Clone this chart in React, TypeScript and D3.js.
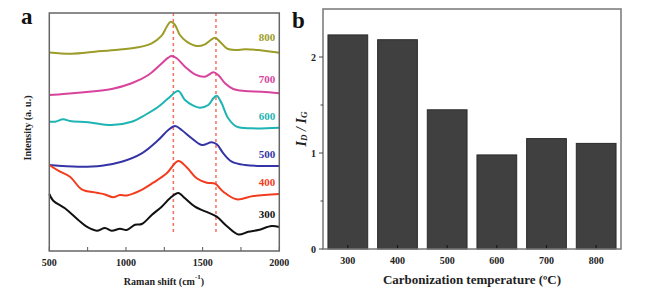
import React from "react";
import * as d3 from "d3";

// ---- Panel a: Raman spectra (wavenumber cm-1, intensity a.u.) ----
const raman800: [number, number][] = [
  [500, 198.5], [646, 197.3], [798, 199.3], [948, 201.3], [1078, 203.7], [1168, 207.7],
  [1233, 215.3], [1266, 224.3], [1292, 229.3], [1320, 226], [1352, 216], [1396, 209.3],
  [1461, 205], [1515, 206.7], [1553, 211], [1581, 213.3], [1613, 209.3], [1657, 202.7],
  [1711, 201], [1776, 201.7], [1863, 201], [1950, 199.3], [2000, 198.3],
];
const raman700: [number, number][] = [
  [500, 156], [689, 158.3], [907, 162], [1037, 167.7], [1146, 176], [1222, 186],
  [1276, 193.3], [1298, 195], [1331, 192.7], [1385, 184.3], [1450, 176.7], [1515, 174.3],
  [1570, 178.7], [1602, 176], [1646, 167.7], [1700, 162], [1776, 160], [1885, 159.3], [2000, 157.7],
];
const raman600: [number, number][] = [
  [500, 129.3], [537, 129.3], [591, 131.7], [635, 130], [754, 128.7], [907, 126],
  [1037, 129.3], [1124, 136], [1211, 144.3], [1276, 152.7], [1341, 160], [1385, 151],
  [1439, 145.3], [1483, 143.3], [1537, 146], [1570, 152.7], [1592, 155.3], [1624, 147.7],
  [1667, 132.7], [1722, 124.3], [1820, 122.7], [2000, 123.3],
];
const raman500: [number, number][] = [
  [500, 86], [689, 84.3], [842, 85.3], [972, 89.3], [1103, 97.7], [1211, 111],
  [1276, 121], [1320, 125], [1363, 121], [1429, 112.7], [1494, 106], [1559, 108.7],
  [1592, 106.7], [1635, 97.7], [1690, 89.3], [1776, 86], [2000, 85],
];
const raman400: [number, number][] = [
  [500, 86], [559, 80.3], [635, 74.3], [711, 61.7], [809, 58.3], [863, 56.5], [917, 53.7],
  [960, 56], [1005, 55.5], [1092, 60.3], [1178, 68.3], [1266, 77.7], [1341, 90],
  [1396, 83.7], [1461, 72.7], [1527, 68.3], [1581, 67.3], [1635, 59.3], [1722, 51.7],
  [1830, 55], [2000, 57],
];
const raman300: [number, number][] = [
  [500, 57], [526, 50.3], [602, 42.7], [689, 31], [744, 24.3], [809, 20.3], [863, 23],
  [907, 20.3], [961, 22.3], [1005, 21], [1059, 26.3], [1103, 27], [1168, 36], [1233, 44.3],
  [1287, 52.7], [1341, 58], [1385, 52.7], [1450, 44.3], [1537, 38.3], [1592, 34.3],
  [1657, 25], [1733, 16.5], [1798, 19.3], [1863, 21], [1950, 25], [2000, 24],
];
const seriesNames = ["800", "700", "600", "500", "400", "300"];
const seriesColors = ["#9c9c28", "#d8449c", "#1fb4b4", "#3434a6", "#f23c1e", "#111111"];
const seriesData = [raman800, raman700, raman600, raman500, raman400, raman300];
const labelLevels = [214, 172, 135, 97, 69, 37];
const bandLines = [1309, 1587];
const ramanTicks = [500, 1000, 1500, 2000];
const ramanMinorTicks = [750, 1250, 1750];

// ---- Panel b: ID/IG ratio ----
const temperatures = ["300", "400", "500", "600", "700", "800"];
const ratios = [2.23, 2.18, 1.45, 0.98, 1.15, 1.1];
const ratioTicks = [0, 1, 2];
const ratioMinorTicks = [0.5, 1.5];

const serif = "'Liberation Serif', 'Times New Roman', serif";

export default function App() {
  // panel a scales
  const xa = d3.scaleLinear().domain([500, 2000]).range([49.3, 279.3]);
  const ya = d3.scaleLinear().domain([0, 238]).range([251, 13]);
  const line = d3
    .line<[number, number]>()
    .x((d) => xa(d[0]))
    .y((d) => ya(d[1]))
    .curve(d3.curveCatmullRom.alpha(0.5));

  // panel b scales
  const xb = d3.scaleBand<string>().domain(temperatures).range([323, 621]).paddingInner(0.2).paddingOuter(0.1);
  const yb = d3.scaleLinear().domain([0, 2.5]).range([249, 9]);

  return (
    <div style={{ position: "fixed", left: 0, top: 0 }}>
      <svg width={645} height={292} style={{ display: "block", background: "#fff" }}>
        {/* ---------- Panel a ---------- */}
        <text x={21} y={24} fontFamily={serif} fontWeight="bold" fontSize={23} fill="#111">a</text>
        {bandLines.map((b) => (
          <line key={b} x1={xa(b)} x2={xa(b)} y1={13} y2={232} stroke="#f5705e" strokeWidth={1.5} strokeDasharray="3,3" />
        ))}
        {seriesData.map((s, i) => (
          <path key={seriesNames[i]} d={line(s) || ""} fill="none" stroke={seriesColors[i]} strokeWidth={2} strokeLinejoin="round" />
        ))}
        {seriesNames.map((n, i) => (
          <text key={n} x={267} y={ya(labelLevels[i])} fontFamily={serif} fontWeight="bold" fontSize={11}
            fill={seriesColors[i]} textAnchor="middle" dominantBaseline="central">{n}</text>
        ))}
        {ramanTicks.concat(ramanMinorTicks).map((t) => (
          <line key={t} x1={xa(t)} x2={xa(t)} y1={251} y2={247} stroke="#555" strokeWidth={1} />
        ))}
        <rect x={49.3} y={13} width={230} height={238} fill="none" stroke="#666" strokeWidth={1.5} />
        {ramanTicks.map((t) => (
          <text key={t} x={xa(t)} y={262} fontFamily={serif} fontWeight="bold" fontSize={10}
            fill="#222" textAnchor="middle" dominantBaseline="central">{t}</text>
        ))}
        <text x={164} y={281} fontFamily={serif} fontWeight="bold" fontSize={10} fill="#222"
          textAnchor="middle" dominantBaseline="central">
          Raman shift (cm<tspan dy={-4} fontSize={7}>-1</tspan><tspan dy={4}>)</tspan>
        </text>
        <text transform="translate(27,128) rotate(-90)" fontFamily={serif} fontWeight="bold" fontSize={10}
          fill="#222" textAnchor="middle" dominantBaseline="central">Intensity (a. u.)</text>

        {/* ---------- Panel b ---------- */}
        <text x={292} y={28} fontFamily={serif} fontWeight="bold" fontSize={23} fill="#111">b</text>
        {temperatures.map((t, i) => (
          <rect key={t} x={xb(t)} y={yb(ratios[i])} width={xb.bandwidth()} height={yb(0) - yb(ratios[i])}
            fill="#404040" stroke="#2a2a2a" strokeWidth={1} />
        ))}
        {temperatures.map((t) => (
          <line key={t} x1={(xb(t) || 0) + xb.bandwidth() / 2} x2={(xb(t) || 0) + xb.bandwidth() / 2}
            y1={249} y2={245} stroke="#111" strokeWidth={1} />
        ))}
        <rect x={323} y={9} width={298} height={240} fill="none" stroke="#777" strokeWidth={1.5} />
        {ratioTicks.map((t) => (
          <g key={t}>
            <line x1={319} x2={323} y1={yb(t)} y2={yb(t)} stroke="#444" strokeWidth={1} />
            <text x={316} y={yb(t)} fontFamily={serif} fontWeight="bold" fontSize={10} fill="#222"
              textAnchor="end" dominantBaseline="central">{t}</text>
          </g>
        ))}
        {ratioMinorTicks.map((t) => (
          <line key={t} x1={320.5} x2={323} y1={yb(t)} y2={yb(t)} stroke="#444" strokeWidth={1} />
        ))}
        {temperatures.map((t) => (
          <text key={t} x={(xb(t) || 0) + xb.bandwidth() / 2} y={260} fontFamily={serif} fontWeight="bold"
            fontSize={10} fill="#222" textAnchor="middle" dominantBaseline="central">{t}</text>
        ))}
        <text x={472} y={279} fontFamily={serif} fontWeight="bold" fontSize={13} fill="#222"
          textAnchor="middle" dominantBaseline="central">Carbonization temperature (ºC)</text>
        <text transform="translate(301,129) rotate(-90)" fontFamily={serif} fontWeight="bold" fontStyle="italic"
          fontSize={14} fill="#222" textAnchor="middle" dominantBaseline="central">
          I<tspan dy={3} fontSize={9}>D</tspan><tspan dy={-3}> / I</tspan><tspan dy={3} fontSize={9}>G</tspan>
        </text>
      </svg>
    </div>
  );
}
